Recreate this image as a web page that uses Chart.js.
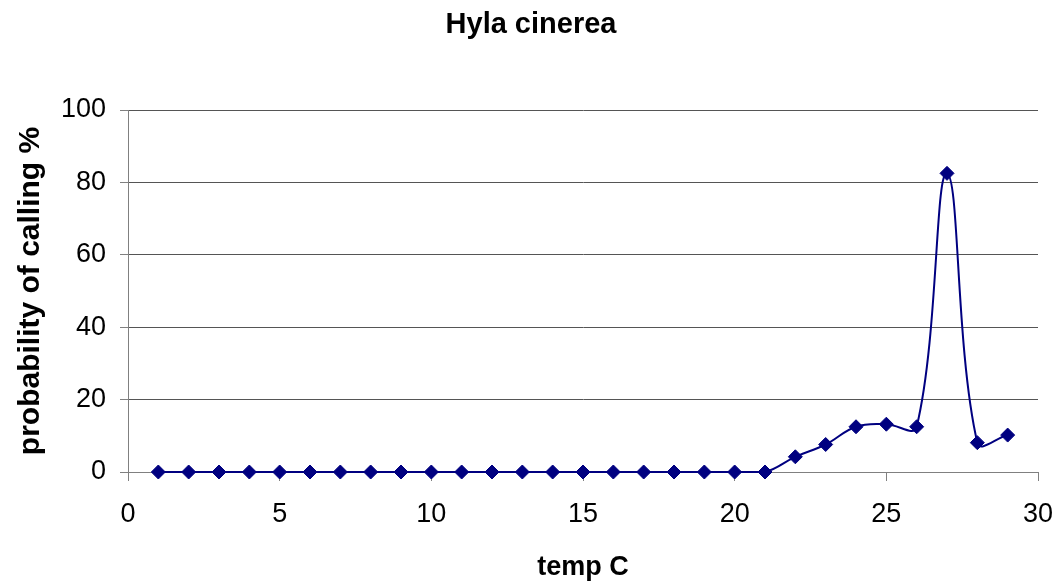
<!DOCTYPE html>
<html>
<head>
<meta charset="utf-8">
<title>Hyla cinerea</title>
<script src="https://cdn.jsdelivr.net/npm/chart.js@4/dist/chart.umd.min.js"></script>
<style>
  html, body { margin: 0; padding: 0; background: #ffffff; }
  #wrap { width: 1062px; height: 588px; }
</style>
</head>
<body>
<div id="wrap"><canvas id="chart" width="1062" height="588"></canvas></div>
<script>
// Water temperature (°C) and probability of calling (%)
const temps = [1, 2, 3, 4, 5, 6, 7, 8, 9, 10, 11, 12, 13, 14, 15, 16, 17, 18, 19, 20, 21, 22, 23, 24, 25, 26, 27, 28, 29];
const callingPct = [0, 0, 0, 0, 0, 0, 0, 0, 0, 0, 0, 0, 0, 0, 0, 0, 0, 0, 0, 0, 0, 4.2, 7.6, 12.5, 13.2, 12.5, 82.5, 8.1, 10.2];

const xTicks = [0, 5, 10, 15, 20, 25, 30];
const yTicks = [0, 20, 40, 60, 80, 100];

const FONT = '"Liberation Sans", Arial, sans-serif';
const NAVY = '#000080';
const TITLE_SIZE = 29;
const TITLE_TOP = 8;
const PLOT_TOP = 110;

const points = temps.map((t, i) => ({ x: t, y: callingPct[i] }));

new Chart(document.getElementById('chart'), {
  type: 'scatter',
  data: {
    datasets: [{
      label: 'Hyla cinerea',
      data: points,
      showLine: true,
      tension: 0.4,
      borderColor: NAVY,
      borderWidth: 2,
      backgroundColor: NAVY,
      pointStyle: 'rectRot',
      pointRadius: 7,
      pointHoverRadius: 7,
      pointBorderColor: NAVY,
      pointBackgroundColor: NAVY,
      pointBorderWidth: 1,
      clip: false
    }]
  },
  options: {
    responsive: false,
    animation: false,
    events: [],
    layout: { padding: 0 },
    plugins: {
      legend: { display: false },
      tooltip: { enabled: false },
      title: {
        display: true,
        text: 'Hyla cinerea',
        color: '#000000',
        font: { family: FONT, size: TITLE_SIZE, weight: 'bold' },
        padding: { top: TITLE_TOP, bottom: PLOT_TOP - TITLE_TOP - TITLE_SIZE * 1.2 }
      }
    },
    scales: {
      x: {
        type: 'linear',
        min: xTicks[0],
        max: xTicks[xTicks.length - 1],
        afterBuildTicks: (s) => { s.ticks = xTicks.map(v => ({ value: v })); },
        afterFit: (s) => {
          s.height = 116;
          s.paddingLeft = 0;
          s.paddingRight = 24;
        },
        border: { display: true, color: '#808080', width: 1 },
        grid: {
          drawOnChartArea: false,
          drawTicks: true,
          tickLength: 9,
          tickColor: '#808080'
        },
        ticks: {
          color: '#000000',
          padding: 17,
          maxRotation: 0,
          font: { family: FONT, size: 27 }
        },
        title: {
          display: true,
          text: 'temp C',
          color: '#000000',
          font: { family: FONT, size: 27, weight: 'bold' },
          padding: { top: 0, bottom: 4 }
        }
      },
      y: {
        type: 'linear',
        min: yTicks[0],
        max: yTicks[yTicks.length - 1],
        afterBuildTicks: (s) => { s.ticks = yTicks.map(v => ({ value: v })); },
        afterFit: (s) => { s.width = 128; },
        border: { display: true, color: '#808080', width: 1 },
        grid: {
          color: '#555555',
          lineWidth: 1,
          drawTicks: true,
          tickLength: 8,
          tickColor: '#808080'
        },
        ticks: {
          color: '#000000',
          padding: 14,
          font: { family: FONT, size: 27 }
        },
        title: {
          display: true,
          text: 'probability of calling %',
          color: '#000000',
          font: { family: FONT, size: 30, weight: 'bold' },
          padding: { top: 13, bottom: 0 }
        }
      }
    }
  }
});
</script>
</body>
</html>
